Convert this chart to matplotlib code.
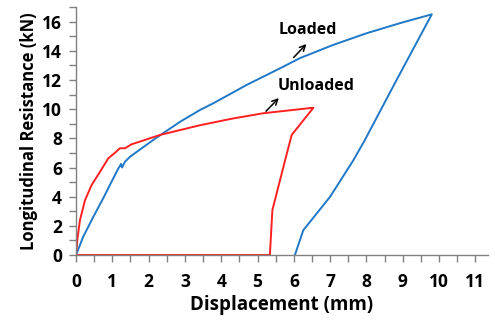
import matplotlib
matplotlib.use('Agg')
import matplotlib.pyplot as plt
from matplotlib.ticker import MultipleLocator

plt.rcParams['font.family'] = ['Open Sans', 'DejaVu Sans']
plt.rcParams['font.weight'] = 'bold'

# loaded specimen: loading branch then unloading branch
loaded_x = [0, 0.2, 0.48, 0.75, 0.98, 1.17, 1.21, 1.24, 1.27, 1.35, 1.49, 1.81, 2.13,
            2.40, 2.87, 3.42, 3.78, 4.70, 5.62, 6.17, 7.08, 8.0, 8.93, 9.8,
            8.83, 7.96, 7.64, 7.0, 6.26, 6.03]
loaded_y = [0, 1.26, 2.63, 3.89, 5.03, 5.95, 6.1, 6.25, 6.0, 6.4, 6.74, 7.32, 7.89,
            8.35, 9.14, 9.95, 10.4, 11.66, 12.8, 13.5, 14.4, 15.2, 15.9, 16.5,
            12.0, 7.9, 6.5, 4.0, 1.7, 0]

# unloaded specimen
unloaded_x = [0, 0.04, 0.11, 0.25, 0.43, 0.66, 0.89, 1.07, 1.21, 1.35, 1.53, 1.95,
              2.31, 2.87, 3.42, 4.3, 5.16, 6.54, 5.94, 5.76, 5.41, 5.34, 0]
unloaded_y = [0, 1.1, 2.4, 3.77, 4.8, 5.7, 6.63, 7.0, 7.32, 7.32, 7.59, 7.93,
              8.23, 8.57, 8.9, 9.35, 9.72, 10.1, 8.23, 6.5, 3.09, 0, 0]

fig = plt.figure(figsize=(4.95, 3.2), dpi=100)
ax = fig.add_axes([0.1535, 0.203, 0.8325, 0.775])

ax.plot(loaded_x, loaded_y, color='#1f78c8', lw=1.4)
ax.plot(unloaded_x, unloaded_y, color='#ff2020', lw=1.4)

ax.set_xlim(0, 11.35)
ax.set_ylim(0, 17)
ax.xaxis.set_major_locator(MultipleLocator(1))
ax.xaxis.set_minor_locator(MultipleLocator(0.5))
ax.yaxis.set_major_locator(MultipleLocator(2))
ax.yaxis.set_minor_locator(MultipleLocator(1))
for s in ['top', 'right']:
    ax.spines[s].set_visible(False)
for s in ['left', 'bottom']:
    ax.spines[s].set_color('#808080')
    ax.spines[s].set_linewidth(1.0)
ax.tick_params(which='both', direction='out', length=5, width=1, color='#808080')
ax.tick_params(which='major', labelsize=12.5, pad=5)
ax.tick_params(axis='x', which='major', pad=8)

ax.set_xlabel('Displacement (mm)', fontsize=13.5, fontweight='bold', labelpad=3)
ax.set_ylabel('Longitudinal Resistance (kN)', fontsize=12, fontweight='bold', labelpad=3)

ax.annotate('', xy=(6.40, 14.6), xytext=(5.94, 13.4),
            arrowprops=dict(arrowstyle='->', color='black', lw=1.1))
ax.annotate('', xy=(5.64, 10.9), xytext=(5.18, 9.72),
            arrowprops=dict(arrowstyle='->', color='black', lw=1.1))
ax.text(6.38, 15.43, 'Loaded', fontsize=11.5, fontweight='bold', ha='center', va='center')
ax.text(6.61, 11.6, 'Unloaded', fontsize=11.5, fontweight='bold', ha='center', va='center')

fig.savefig('out.png', dpi=100)
